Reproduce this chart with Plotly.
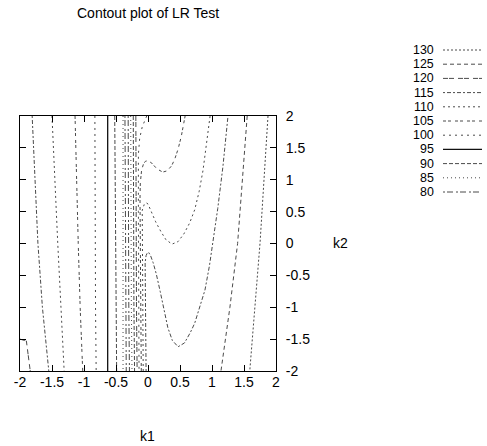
import plotly.graph_objects as go

# ---------------- data ----------------
key_levels = [130, 125, 120, 115, 110, 105, 100, 95, 90, 85, 80]

x_ticks = [-2, -1.5, -1, -0.5, 0, 0.5, 1, 1.5, 2]
y_ticks = [-2, -1.5, -1, -0.5, 0, 0.5, 1, 1.5, 2]

# each contour line: its level and traced (k1, k2) points
contour_level = [120, 115, 110, 105, 100, 95, 90, 85, 80, 80, 85, 90, 100,
                 105, 110, 115, 120, 125, 130]

contour_k1 = [
    [-2.0, -1.90, -1.84],                                   # stub
    [-1.81, -1.77, -1.72, -1.65, -1.55],                    # A
    [-1.50, -1.46, -1.41, -1.36, -1.31],                    # B
    [-1.14, -1.12, -1.09, -1.06, -1.02],                    # C
    [-0.83, -0.83, -0.82, -0.82, -0.81],                    # D
    [-0.63, -0.63, -0.63, -0.63, -0.63],                    # E
    [-0.52, -0.51, -0.51, -0.50, -0.49],                    # F
    [-0.39, -0.39, -0.39, -0.39, -0.39],                    # G
    [-0.36, -0.355, -0.35, -0.345, -0.34],                  # H
    [-0.31, -0.31, -0.305, -0.30, -0.29],                   # I
    [-0.27, -0.27, -0.265, -0.26, -0.25],                   # J
    [-0.23, -0.23, -0.225, -0.22, -0.21],                   # K
    [-0.02, -0.05, -0.09, -0.13, -0.15, -0.15, -0.15, -0.145, -0.14],  # M
    [-0.105, -0.115, -0.12, -0.125, -0.12, -0.10, -0.07, -0.04, 0.0, 0.06,
     0.14, 0.23, 0.30, 0.37, 0.42, 0.47, 0.52, 0.58],       # U1
    [-0.075, -0.085, -0.095, -0.10, -0.09, -0.06, -0.03, 0.0, 0.05, 0.12,
     0.20, 0.28, 0.375, 0.47, 0.56, 0.65, 0.73, 0.80, 0.86, 0.92, 0.97],  # U2
    [-0.03, -0.045, -0.05, -0.045, -0.03, -0.01, 0.01, 0.04, 0.08, 0.13,
     0.19, 0.25, 0.31, 0.38, 0.47, 0.57, 0.66, 0.73, 0.81, 0.89, 0.96,
     1.02, 1.09, 1.17, 1.25],                               # U3
    [-0.19, -0.19, -0.185, -0.18, -0.17],                   # L
    [1.55, 1.48, 1.40, 1.28, 1.14],                         # R1
    [1.875, 1.81, 1.75, 1.67, 1.59],                        # R2
]

contour_k2 = [
    [-1.50, -1.53, -2.0],
    [2, 1, 0, -1, -2],
    [2, 1, 0, -1, -2],
    [2, 1, 0, -1, -2],
    [2, 1, 0, -1, -2],
    [2, 1, 0, -1, -2],
    [2, 1, 0, -1, -2],
    [2, 1, 0, -1, -2],
    [2, 1, 0, -1, -2],
    [2, 1, 0, -1, -2],
    [2, 1, 0, -1, -2],
    [2, 1, 0, -1, -2],
    [2.0, 1.93, 1.83, 1.65, 1.4, 0.5, 0.0, -1.0, -2.0],
    [-2.0, -1.0, 0.0, 0.7, 0.95, 1.15, 1.25, 1.29, 1.30, 1.26, 1.17, 1.12,
     1.14, 1.22, 1.33, 1.48, 1.68, 2.0],
    [-2.0, -1.0, 0.0, 0.35, 0.52, 0.61, 0.64, 0.62, 0.50, 0.34, 0.19, 0.06,
     -0.01, 0.03, 0.15, 0.32, 0.53, 0.82, 1.15, 1.60, 2.0],
    [-2.0, -1.0, -0.5, -0.3, -0.19, -0.145, -0.14, -0.19, -0.30, -0.48,
     -0.75, -1.05, -1.32, -1.52, -1.62, -1.56, -1.40, -1.25, -1.00, -0.73,
     -0.35, 0.05, 0.55, 1.20, 2.0],
    [2, 1, 0, -1, -2],
    [2, 1, 0, -1, -2],
    [2, 1, 0, -1, -2],
]

# ---------------- styles ----------------
level_dash = {
    130: "2px,2px", 125: "4px,3px", 120: "5px,1px,5px,4px",
    115: "2px,2px,4px,2px", 110: "2px,3px", 105: "3px,2px,3px,4px",
    100: "2px,4px", 95: "solid", 90: "4px,2px", 85: "1px,3px",
    80: "2px,2px,6px,3px",
}
level_color = {lv: "#4a4a4a" for lv in key_levels}
level_color[95] = "#111111"
level_width = {lv: 1 for lv in key_levels}
level_width[95] = 1.3

FONT = "Liberation Sans, Arial, Helvetica, sans-serif"

fig = go.Figure()
for lv, xs, ys in zip(contour_level, contour_k1, contour_k2):
    fig.add_trace(go.Scatter(
        x=xs, y=ys, mode="lines", showlegend=False, hoverinfo="skip",
        line=dict(color=level_color[lv], width=level_width[lv],
                  dash=level_dash[lv]),
    ))

# plot area geometry (pixels) for paper-coordinate conversions
W, H = 487, 446
L, R, T, B = 20, 211, 116, 75
pw, ph = W - L - R, H - T - B


def px2x(px):
    return (px - L) / pw


def py2y(py):
    return (H - B - py) / ph


annotations = [
    dict(text="Contout plot of LR Test", x=px2x(75), y=py2y(12.5),
         xanchor="left", yanchor="middle", font_size=14),
    dict(text="k1", x=px2x(147.5), y=py2y(436), xanchor="center",
         yanchor="middle", font_size=14),
    dict(text="k2", x=px2x(340), y=py2y(243), xanchor="center",
         yanchor="middle", font_size=14),
]
shapes = []
for i, lv in enumerate(key_levels):
    yy = py2y(50 + 14.2 * i)
    annotations.append(dict(text=str(lv), x=px2x(435), y=yy, xanchor="right",
                            yanchor="middle", borderpad=0, font_size=12.4))
    shapes.append(dict(type="line", xref="paper", yref="paper",
                       x0=px2x(443), x1=px2x(482), y0=yy, y1=yy,
                       line=dict(color=level_color[lv], width=level_width[lv],
                                 dash=level_dash[lv])))
for a in annotations:
    size = a.pop("font_size")
    a.update(xref="paper", yref="paper", showarrow=False,
             font=dict(family=FONT, size=size, color="black"))

axis_common = dict(
    showgrid=False, zeroline=False, showline=True, linecolor="black",
    linewidth=1, mirror="ticks", ticks="inside", ticklen=6, tickwidth=1,
    tickcolor="black", tickfont=dict(family=FONT, size=14, color="black"),
)

fig.update_layout(
    width=W, height=H, autosize=False,
    margin=dict(l=L, r=R, t=T, b=B, pad=0),
    paper_bgcolor="white", plot_bgcolor="white",
    showlegend=False,
    annotations=annotations, shapes=shapes,
    xaxis=dict(range=[-2, 2], tickvals=x_ticks,
               ticktext=[f"{v:g}" for v in x_ticks], ticklabelstandoff=-2,
               **axis_common),
    yaxis=dict(range=[-2, 2], tickvals=y_ticks, side="right",
               ticktext=[f"{v:g}" for v in y_ticks], ticklabelstandoff=6,
               **axis_common),
)

fig.write_html("out.html")
